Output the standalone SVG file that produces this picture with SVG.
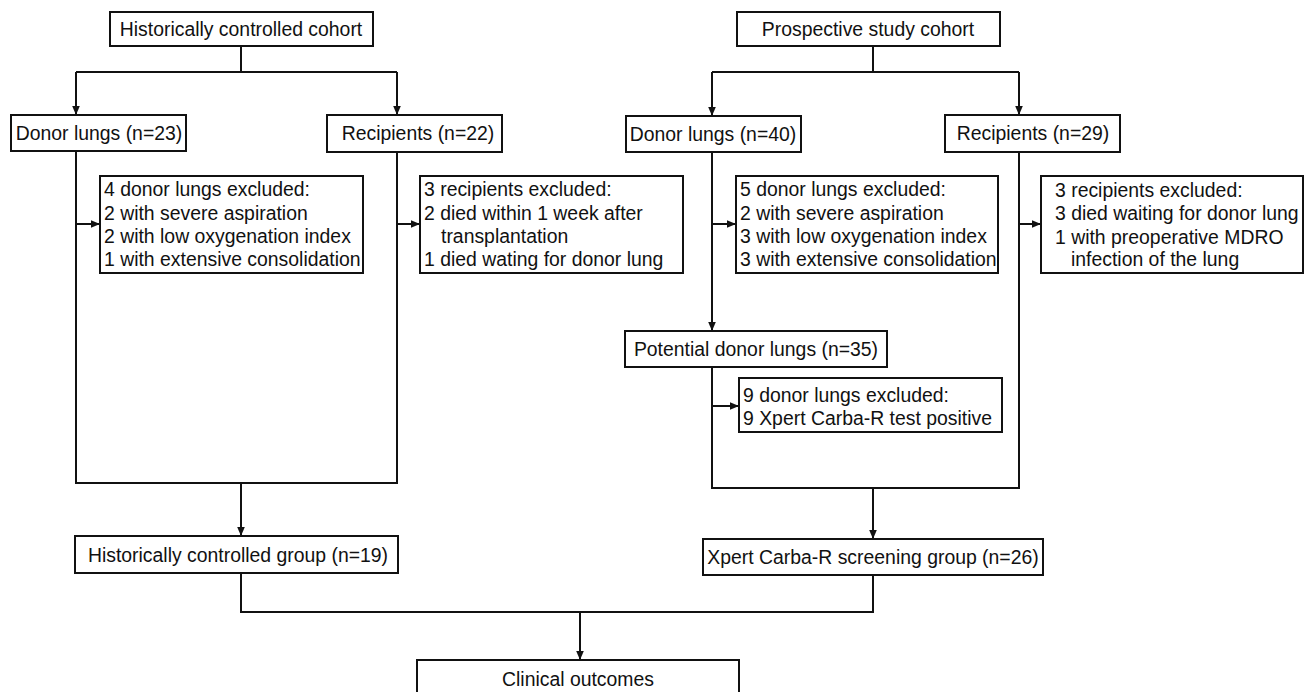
<svg xmlns="http://www.w3.org/2000/svg" width="1309" height="692" viewBox="0 0 1309 692">
<style>
.box{fill:#fff;stroke:#111;stroke-width:2}
.t{font-family:"Liberation Sans",Arial,sans-serif;font-size:19.4px;fill:#111}
.c{text-anchor:middle}
.ln{fill:none;stroke:#111;stroke-width:2}
</style>
<defs>
<marker id="ah" markerUnits="userSpaceOnUse" markerWidth="10" markerHeight="10" viewBox="0 0 10 10" refX="10" refY="5" orient="auto">
<path d="M1,1.2 L10,5 L1,8.8 Z" fill="#111"/>
</marker>
</defs>
<rect width="1309" height="692" fill="#fff"/>
<g id="connectors">
<polyline class="ln" points="241,46 241,72"/>
<polyline class="ln" points="76,72 397,72"/>
<line class="ln" x1="76" y1="72" x2="76" y2="115" marker-end="url(#ah)"/>
<line class="ln" x1="397" y1="72" x2="397" y2="115" marker-end="url(#ah)"/>
<polyline class="ln" points="873,46 873,72"/>
<polyline class="ln" points="712,72 1019,72"/>
<line class="ln" x1="712" y1="72" x2="712" y2="116" marker-end="url(#ah)"/>
<line class="ln" x1="1019" y1="72" x2="1019" y2="115" marker-end="url(#ah)"/>
<polyline class="ln" points="76,151 76,483 397,483 397,152"/>
<line class="ln" x1="76" y1="224" x2="100" y2="224" marker-end="url(#ah)"/>
<line class="ln" x1="397" y1="224" x2="420" y2="224" marker-end="url(#ah)"/>
<line class="ln" x1="241" y1="483" x2="241" y2="536" marker-end="url(#ah)"/>
<line class="ln" x1="712" y1="152" x2="712" y2="331" marker-end="url(#ah)"/>
<line class="ln" x1="712" y1="224" x2="736" y2="224" marker-end="url(#ah)"/>
<polyline class="ln" points="712,367 712,488 1019,488 1019,152"/>
<line class="ln" x1="712" y1="406" x2="739" y2="406" marker-end="url(#ah)"/>
<line class="ln" x1="1019" y1="224" x2="1041" y2="224" marker-end="url(#ah)"/>
<line class="ln" x1="873" y1="488" x2="873" y2="539" marker-end="url(#ah)"/>
<polyline class="ln" points="241,573 241,612 873,612 873,575"/>
<line class="ln" x1="580" y1="612" x2="580" y2="660" marker-end="url(#ah)"/>
</g>
<g id="hc-cohort"><rect class="box" x="110" y="12" width="263" height="34"/><text class="t c" x="241" y="36">Historically controlled cohort</text></g>
<g id="ps-cohort"><rect class="box" x="737" y="12" width="263" height="34"/><text class="t c" x="868" y="36">Prospective study cohort</text></g>
<g id="donor23"><rect class="box" x="11" y="115" width="175" height="36"/><text class="t c" x="99" y="140">Donor lungs (n=23)</text></g>
<g id="recip22"><rect class="box" x="327" y="115" width="175" height="37"/><text class="t c" x="418" y="140">Recipients (n=22)</text></g>
<g id="donor40"><rect class="box" x="626" y="116" width="175" height="36"/><text class="t c" x="713" y="141">Donor lungs (n=40)</text></g>
<g id="recip29"><rect class="box" x="945" y="115" width="175" height="37"/><text class="t c" x="1033" y="140">Recipients (n=29)</text></g>
<g id="excl4"><rect class="box" x="100" y="176" width="263" height="97"/>
<text class="t" x="104" y="196">4 donor lungs excluded:</text>
<text class="t" x="104" y="219.5">2 with severe aspiration</text>
<text class="t" x="104" y="243">2 with low oxygenation index</text>
<text class="t" x="104" y="266">1 with extensive consolidation</text></g>
<g id="excl3a"><rect class="box" x="420" y="176" width="263" height="97"/>
<text class="t" x="424" y="196">3 recipients excluded:</text>
<text class="t" x="424" y="219.5">2 died within 1 week after</text>
<text class="t" x="441" y="243">transplantation</text>
<text class="t" x="424" y="266">1 died wating for donor lung</text></g>
<g id="excl5"><rect class="box" x="736" y="176" width="262" height="97"/>
<text class="t" x="740" y="196">5 donor lungs excluded:</text>
<text class="t" x="740" y="219.5">2 with severe aspiration</text>
<text class="t" x="740" y="243">3 with low oxygenation index</text>
<text class="t" x="740" y="266">3 with extensive consolidation</text></g>
<g id="excl3b"><rect class="box" x="1041" y="176" width="262" height="97"/>
<text class="t" x="1055" y="197">3 recipients excluded:</text>
<text class="t" x="1055" y="220">3 died waiting for donor lung</text>
<text class="t" x="1055" y="243.5">1 with preoperative MDRO</text>
<text class="t" x="1071" y="266">infection of the lung</text></g>
<g id="potential35"><rect class="box" x="625" y="331" width="262" height="36"/><text class="t c" x="756" y="356">Potential donor lungs (n=35)</text></g>
<g id="excl9"><rect class="box" x="739" y="378" width="263" height="54"/>
<text class="t" x="743" y="402">9 donor lungs excluded:</text>
<text class="t" x="743" y="425">9 Xpert Carba-R test positive</text></g>
<g id="hc-group"><rect class="box" x="75" y="536" width="323" height="37"/><text class="t c" x="238" y="561.5">Historically controlled group (n=19)</text></g>
<g id="xpert-group"><rect class="box" x="703" y="539" width="340" height="36"/><text class="t c" x="873" y="564">Xpert Carba-R screening group (n=26)</text></g>
<g id="outcomes"><rect class="box" x="417" y="660" width="322" height="45"/><text class="t c" x="578" y="686">Clinical outcomes</text></g>
</svg>
